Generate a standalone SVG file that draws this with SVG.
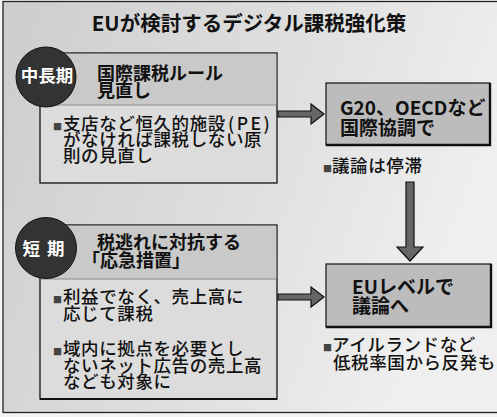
<svg xmlns="http://www.w3.org/2000/svg" width="497" height="417" viewBox="0 0 497 417">
<defs>
<linearGradient id="bg" x1="0" y1="0" x2="1" y2="0.3">
<stop offset="0" stop-color="#cdcdcd"/>
<stop offset="0.55" stop-color="#dedede"/>
<stop offset="1" stop-color="#efefef"/>
</linearGradient>
<style>
text{font-family:"Noto Sans CJK JP","Noto Sans",sans-serif;fill:#111}
.title{font-size:20.5px;font-weight:700}
.hd{font-size:18px;font-weight:700}
.bd{font-size:17.5px;font-weight:500;letter-spacing:0.6px}
.rb{font-size:19px;font-weight:700}
.circ{fill:#333;stroke:#111;stroke-width:1}
.ct{font-size:17.5px;font-weight:700;fill:#fff}
.box{fill:#dcdcdc;stroke:#111;stroke-width:1.3}
.hdr{fill:#c9c9c9}
.sep{stroke:#777;stroke-width:0.8}
.rbox{fill:#bcbcbc;stroke:#111;stroke-width:1.2}
.sh{stroke:#111;stroke-width:2.4;fill:none}
.arr{fill:#666;stroke:#111;stroke-width:1.2;stroke-linejoin:miter}
.bul{font-size:9px;fill:#444}
</style>
</defs>
<rect x="0" y="0" width="497" height="417" fill="#f4f4f4"/>
<rect x="3" y="1.5" width="497" height="411" fill="url(#bg)" stroke="#222" stroke-width="1.3"/>
<text class="title" x="249" y="31" text-anchor="middle">EUが検討するデジタル課税強化策</text>

<g id="connectors">
<polygon class="arr" points="278,111 311,111 311,104 324,114 311,124 311,117 278,117"/>
<polygon class="arr" points="406,182 414,182 414,247 423,247 410,261 397,247 406,247"/>
<polygon class="arr" points="278,294 311,294 311,287 324,297 311,307 311,300 278,300"/>
</g>

<g id="midlong">
<rect class="box" x="40" y="53" width="237" height="130"/>
<rect class="hdr" x="40.7" y="53.7" width="235.6" height="51"/>
<line class="sep" x1="40.7" y1="105" x2="276.3" y2="105"/>
<circle class="circ" cx="46" cy="77" r="30"/>
<text class="ct" x="47" y="82" text-anchor="middle">中長期</text>
<text class="hd" x="97" y="80">国際課税ルール</text>
<text class="hd" x="97" y="97">見直し</text>
<text class="bd" x="53" y="130"><tspan class="bul">■</tspan><tspan x="63">支店など恒久的施設</tspan><tspan dx="2" letter-spacing="2.5px">(PE)</tspan></text>
<text class="bd" x="63" y="146">がなければ課税しない原</text>
<text class="bd" x="63" y="162">則の見直し</text>
</g>

<g id="g20">
<rect class="rbox" x="326" y="83" width="164" height="62"/>
<polyline class="sh" points="490,83 490,145 326,145"/>
<text class="rb" x="340" y="115">G20、OECDなど</text>
<text class="rb" x="340" y="135">国際協調で</text>
<text class="bd" x="323" y="172"><tspan class="bul">■</tspan><tspan x="332">議論は停滞</tspan></text>
</g>

<g id="short">
<rect class="box" x="40" y="225" width="237" height="174"/>
<rect class="hdr" x="40.7" y="225.7" width="235.6" height="53"/>
<line class="sep" x1="40.7" y1="279" x2="276.3" y2="279"/>
<line x1="40" y1="399" x2="277" y2="399" stroke="#111" stroke-width="2"/>
<circle class="circ" cx="46" cy="248" r="30.5"/>
<text class="ct" x="47" y="255" text-anchor="middle" letter-spacing="7">短期</text>
<text class="hd" x="97" y="249">税逃れに対抗する</text>
<text class="hd" x="82" y="267">「応急措置」</text>
<text class="bd" x="53" y="303"><tspan class="bul">■</tspan><tspan x="63">利益でなく、売上高に</tspan></text>
<text class="bd" x="63" y="320">応じて課税</text>
<text class="bd" x="53" y="355"><tspan class="bul">■</tspan><tspan x="63">域内に拠点を必要とし</tspan></text>
<text class="bd" x="63" y="371.5">ないネット広告の売上高</text>
<text class="bd" x="63" y="388">なども対象に</text>
</g>

<g id="eulevel">
<rect class="rbox" x="326" y="264" width="165" height="63"/>
<polyline class="sh" points="491,264 491,327 326,327"/>
<text class="rb" x="352" y="294">EUレベルで</text>
<text class="rb" x="352" y="313">議論へ</text>
<text class="bd" x="323" y="351"><tspan class="bul">■</tspan><tspan x="332">アイルランドなど</tspan></text>
<text class="bd" x="333" y="369">低税率国から反発も</text>
</g>
</svg>
